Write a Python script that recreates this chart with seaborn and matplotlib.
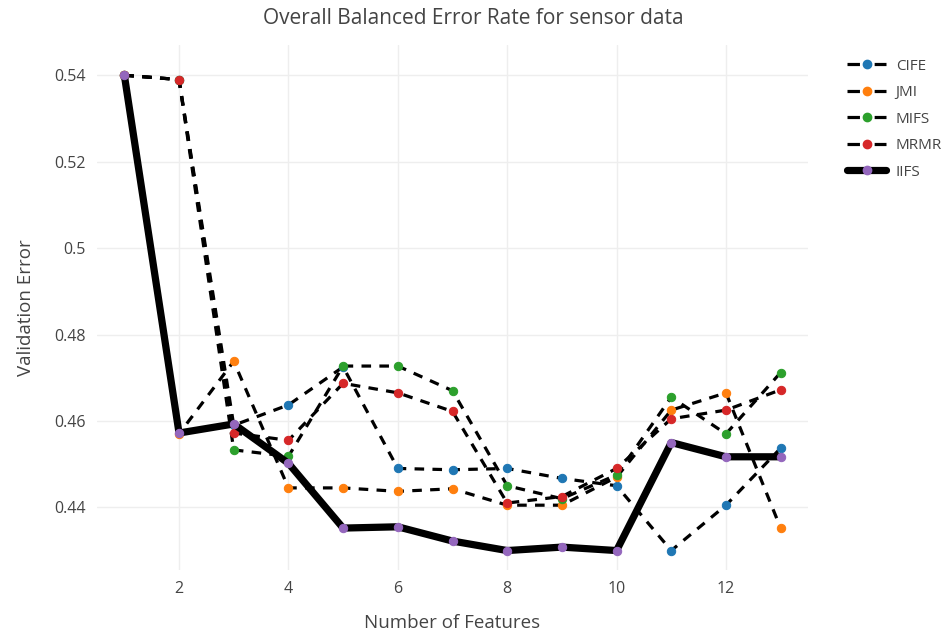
import numpy as np
import pandas as pd
import seaborn as sns
import matplotlib.pyplot as plt
from matplotlib.lines import Line2D

features = [1, 2, 3, 4, 5, 6, 7, 8, 9, 10, 11, 12, 13]
cife = [0.540, 0.539, 0.459, 0.4637, 0.4725, 0.4490, 0.4487, 0.4490, 0.4467, 0.4450, 0.4300, 0.4405, 0.4537]
jmi = [0.540, 0.457, 0.4738, 0.4445, 0.4445, 0.4437, 0.4443, 0.4405, 0.4405, 0.4470, 0.4625, 0.4665, 0.4352]
mifs = [0.540, 0.539, 0.4533, 0.4518, 0.4727, 0.4727, 0.4670, 0.4450, 0.4420, 0.4475, 0.4655, 0.4570, 0.4712]
mrmr = [0.540, 0.539, 0.4572, 0.4555, 0.4687, 0.4665, 0.4622, 0.4410, 0.4425, 0.4490, 0.4605, 0.4625, 0.4672]
iifs = [0.540, 0.4572, 0.4593, 0.4502, 0.4352, 0.4355, 0.4322, 0.4300, 0.4308, 0.4300, 0.4550, 0.4517, 0.4517]

names = ["CIFE", "JMI", "MIFS", "MRMR", "IIFS"]
series = [cife, jmi, mifs, mrmr, iifs]
colors = ["#1f77b4", "#ff7f0e", "#2ca02c", "#d62728", "#9467bd"]

sns.set_style("white")
plt.rcParams['font.family'] = ['Open Sans', 'DejaVu Sans']
txt = "#444444"

fig = plt.figure(figsize=(9.49, 6.35), dpi=100)
ax = fig.add_axes([97/949, 1-570/635, (808-97)/949, 525/635])

for name, vals, col in zip(names, series, colors):
    df = pd.DataFrame({"x": features, "y": vals})
    if name == "IIFS":
        sns.lineplot(data=df, x="x", y="y", ax=ax, color="black", linewidth=5.2,
                     marker="o", markersize=6, markerfacecolor=col, markeredgecolor=col,
                     zorder=5)
    else:
        sns.lineplot(data=df, x="x", y="y", ax=ax, color="black", linewidth=2.3,
                     linestyle="--", dashes=False, marker="o", markersize=6,
                     markerfacecolor=col, markeredgecolor=col, zorder=3)
for ln in ax.lines:
    if ln.get_linewidth() < 3:
        ln.set_dashes((3, 2.6))

ax.set_xlim(0.5, 13.5)
ax.set_ylim(0.4255, 0.547)
ax.set_xticks([2, 4, 6, 8, 10, 12])
ax.set_yticks([0.44, 0.46, 0.48, 0.5, 0.52, 0.54])
ax.set_yticklabels(["0.44", "0.46", "0.48", "0.5", "0.52", "0.54"])
ax.grid(True, color="#eeeeee", linewidth=1)
for s in ax.spines.values():
    s.set_visible(False)
ax.tick_params(axis="both", length=0, labelsize=11.5, colors=txt, pad=8)
ax.set_xlabel("Number of Features", fontsize=13.5, color=txt, labelpad=12)
ax.set_ylabel("Validation Error", fontsize=13.5, color=txt, labelpad=14)
fig.text(473/949, 1-19/635, "Overall Balanced Error Rate for sensor data",
         ha="center", va="center", fontsize=15, color=txt)

handles = []
for name, col in zip(names, colors):
    if name == "IIFS":
        h = Line2D([0], [0], color="black", lw=5.2, marker="o", markersize=6,
                   markerfacecolor=col, markeredgecolor=col)
    else:
        h = Line2D([0], [0], color="black", lw=2.3, ls=(0, (3.9, 4.6)), marker="o",
                   markersize=6, markerfacecolor=col, markeredgecolor=col)
    handles.append(h)
leg = fig.legend(handles, names, loc="upper left", bbox_to_anchor=(833/949, 1-45/635),
                 frameon=False, fontsize=11, handlelength=2.6, labelspacing=0.75,
                 handletextpad=0.6)
for t in leg.get_texts():
    t.set_color(txt)

fig.savefig("out.png", dpi=100)
